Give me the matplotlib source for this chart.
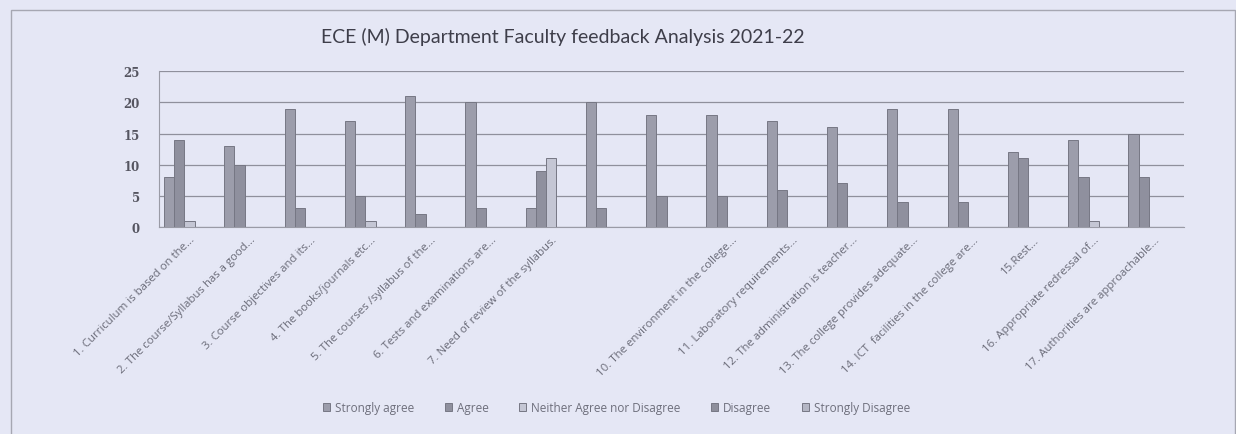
import matplotlib.pyplot as plt
import numpy as np

# category labels (labels 8 and 9 are not shown on the source chart)
categories = [
    "1. Curriculum is based on the...",
    "2. The course/Syllabus has a good...",
    "3. Course objectives and its...",
    "4. The books/journals etc...",
    "5. The courses /syllabus of the...",
    "6. Tests and examinations are...",
    "7. Need of review of the syllabus.",
    "",
    "",
    "10. The environment in the college...",
    "11. Laboratory requirements...",
    "12. The administration is teacher...",
    "13. The college provides adequate...",
    "14. ICT  facilities in the college are...",
    "15.Rest...",
    "16. Appropriate redressal of...",
    "17. Authorities are approachable...",
]

series_names = ["Strongly agree", "Agree", "Neither Agree nor Disagree",
                "Disagree", "Strongly Disagree"]
strongly_agree = [8, 13, 19, 17, 21, 20, 3, 20, 18, 18, 17, 16, 19, 19, 12, 14, 15]
agree          = [14, 10, 3, 5, 2, 3, 9, 3, 5, 5, 6, 7, 4, 4, 11, 8, 8]
neither        = [1, 0, 0, 1, 0, 0, 11, 0, 0, 0, 0, 0, 0, 0, 0, 1, 0]
disagree       = [0] * 17
strongly_dis   = [0] * 17
yticks = [0, 5, 10, 15, 20, 25]

series = [strongly_agree, agree, neither, disagree, strongly_dis]
colors = ["#9c9dab", "#8f909e", "#c4c6d4", "#8e8f9c", "#b4b6c4"]
bg = "#e5e7f5"

fig = plt.figure(figsize=(12.36, 4.35), dpi=100, facecolor=bg)
ax = fig.add_axes([0.129, 0.476, 0.829, 0.358], facecolor=bg)

x = np.arange(len(categories))
w = 0.17
for i, (name, vals) in enumerate(zip(series_names, series)):
    ax.bar(x + (i - 2) * w, vals, width=w, color=colors[i], edgecolor="#767784",
           linewidth=0.7, label=name, zorder=3)

ax.set_xlim(-0.5, len(categories) - 0.5)
ax.set_ylim(0, 25)
ax.set_yticks(yticks)
ax.set_yticklabels([str(t) for t in yticks], fontsize=8.5, color="#555560",
                   family="DejaVu Serif", fontweight="bold")
ax.yaxis.grid(True, color="#8f909c", linewidth=0.9, zorder=0)
ax.tick_params(axis="y", length=0, pad=14)
ax.tick_params(axis="x", length=0, pad=5)
ax.set_xticks(x)
ax.set_xticklabels(categories, rotation=45, ha="right", rotation_mode="anchor",
                   fontsize=8.2, color="#6a6b78", family="Open Sans")
for s in ["top", "right"]:
    ax.spines[s].set_visible(False)
ax.spines["left"].set_color("#9a9ba6")
ax.spines["bottom"].set_color("#9a9ba6")

fig.text(0.455, 0.915, "ECE (M) Department Faculty feedback Analysis 2021-22",
         ha="center", va="center", fontsize=14, color="#3e3e4a", family="Lato")

ax.legend(loc="center", bbox_to_anchor=(0.446, -1.16), ncol=5, frameon=False,
          handlelength=0.6, handleheight=0.6, columnspacing=2.6,
          handletextpad=0.4, labelcolor="#6e6f7c", prop={"family": "Open Sans", "size": 8.5})

# chart frame
fig.patches.append(plt.Rectangle((0.009, -0.01), 0.99, 0.985, transform=fig.transFigure,
                                 fill=False, edgecolor="#a6a7b2", linewidth=1.0))

fig.savefig("out.png", dpi=100, facecolor=bg)
